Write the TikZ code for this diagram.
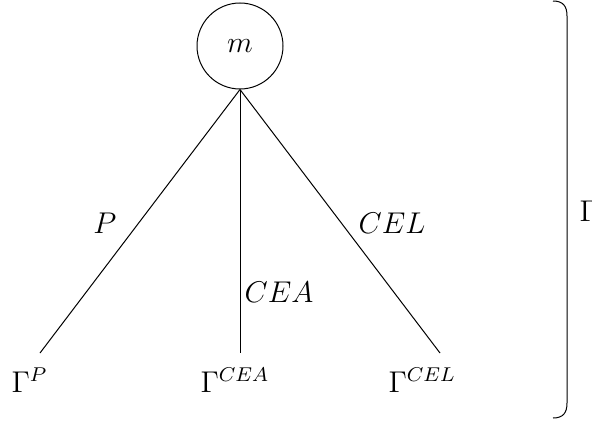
\documentclass[tikz,border=0pt]{standalone}
\begin{document}
\begin{tikzpicture}[x=0.4pt,y=-0.4pt,font=\fontsize{12}{14}\selectfont,
  lbl/.style={inner sep=0pt},
  leaf/.style={inner sep=0pt,anchor=base west}]
\useasboundingbox (0,0) rectangle (592,420);
\node[draw,circle,minimum size=34.4pt,inner sep=0pt] (m) at (240,46) {$m$};
\coordinate (e1) at (40,353);
\coordinate (e2) at (240,353);
\coordinate (e3) at (440,353);
\draw (m.south) -- (e1);
\draw (m.south) -- (e2);
\draw (m.south) -- (e3);
\node[lbl] (lp) at (105,223) {$P$};
\node[lbl] (lcea) at (279,292) {$CEA$};
\node[lbl] (lcel) at (392,223) {$CEL$};
\node[leaf] (gp) at (11,392) {$\Gamma^{P}$};
\node[leaf] (gcea) at (200,392) {$\Gamma^{CEA}$};
\node[leaf] (gcel) at (388,392) {$\Gamma^{CEL}$};
\coordinate (b1) at (553,1);
\coordinate (b2) at (553,418);
\draw (b1) .. controls (563,1) and (567,6) .. (567,16) -- (567,403) .. controls (567,413) and (563,418) .. (b2);
\node[leaf] (g) at (579,221) {$\Gamma$};
\end{tikzpicture}
\end{document}
